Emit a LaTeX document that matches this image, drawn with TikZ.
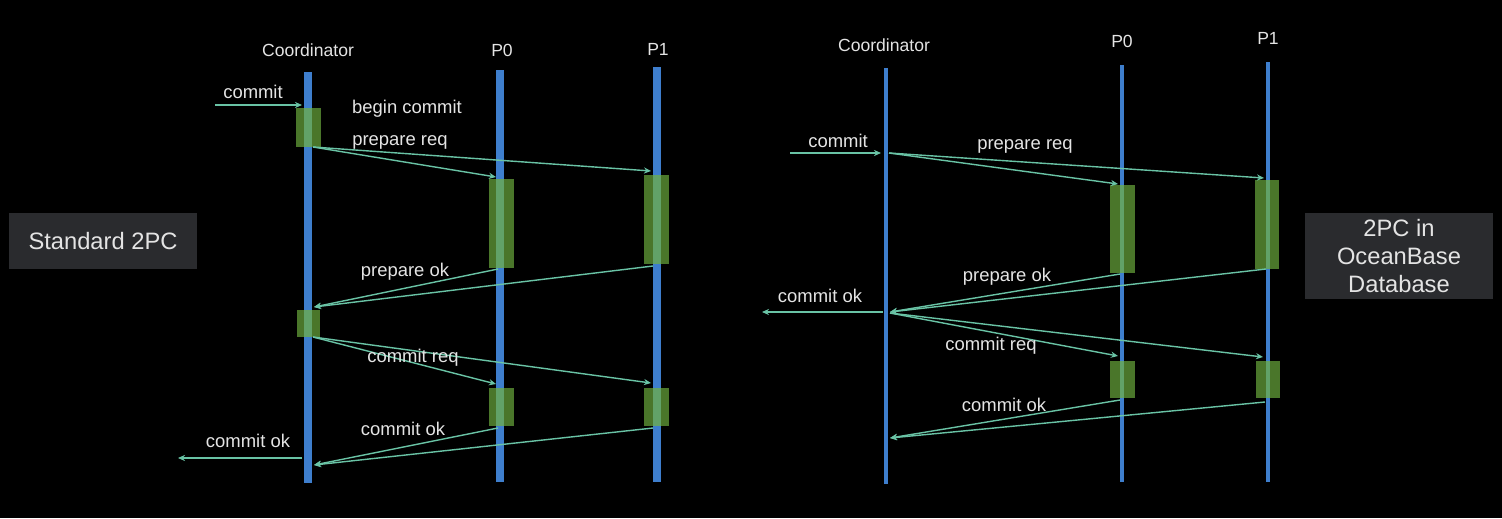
\documentclass[tikz,border=0pt]{standalone}
\usepackage{fontspec}
\setmainfont{Liberation Sans}
\usetikzlibrary{arrows.meta}

\definecolor{bgblack}{RGB}{0,0,0}
\definecolor{lifeblue}{RGB}{62,126,205}
\definecolor{actgreen}{RGB}{74,118,42}
\definecolor{actstrip}{RGB}{98,162,104}
\definecolor{msgteal}{RGB}{105,195,165}
\definecolor{txtgray}{RGB}{228,228,228}
\definecolor{tagbox}{RGB}{42,43,46}

\tikzset{
  lifeline/.style={lifeblue, line width=#1},
  lifeline/.default=4.5pt,
  actbox/.style={fill=actgreen},
  seen/.style={actstrip, line width=#1},
  seen/.default=4.5pt,
  msg/.style={msgteal, line width=0.8pt, ->},
  who/.style={text=txtgray, font=\fontsize{10}{12}\selectfont},
  lbl/.style={text=txtgray, font=\fontsize{10.5}{12}\selectfont},
  tag/.style={fill=tagbox, text=txtgray, font=\fontsize{13.5}{16}\selectfont, align=center},
}

\begin{document}
\begin{tikzpicture}[x=0.02cm, y=-0.02cm, >={Stealth[length=4pt,width=3.5pt]}] % one unit = one pixel of the slide
    % Background
    \fill[bgblack] (0,0) rectangle (1502,518);

    % Side tags
    \node[tag, minimum width=3.76cm, minimum height=1.12cm] (stdtag) at (103,241) {Standard 2PC};
    \node[tag, minimum width=3.76cm, minimum height=1.72cm] (obtag) at (1399,256) {2PC in\\OceanBase\\Database};

    %% Standard 2PC
    % Lifelines and their names
    \node[who] (lcoord) at (308,50) {Coordinator};
    \node[who] (lp0) at (502,50) {P0};
    \node[who] (lp1) at (658,49) {P1};
    \draw[lifeline] (308,72) -- (308,483);
    \draw[lifeline] (500,70) -- (500,482);
    \draw[lifeline] (657,67) -- (657,482);

    % Activity boxes (the lifeline shows through them)
    \fill[actbox] (296,108) rectangle (321,147);
    \draw[seen] (308,108) -- (308,147);
    \fill[actbox] (489,179) rectangle (514,268);
    \draw[seen] (500,179) -- (500,268);
    \fill[actbox] (644,175) rectangle (669,264);
    \draw[seen] (657,175) -- (657,264);
    \fill[actbox] (297,310) rectangle (320,337);
    \draw[seen] (308,310) -- (308,337);
    \fill[actbox] (489,388) rectangle (514,426);
    \draw[seen] (500,388) -- (500,426);
    \fill[actbox] (644,388) rectangle (669,426);
    \draw[seen] (657,388) -- (657,426);

    % Message ends
    \coordinate (lin) at (215,105);
    \coordinate (lcin) at (302,105);
    \coordinate (lcprep) at (313,147);
    \coordinate (lp0prep) at (496,177);
    \coordinate (lp1prep) at (651,171);
    \coordinate (lp0ok) at (498,269);
    \coordinate (lp1ok) at (653,266);
    \coordinate (lcok) at (314,307);
    \coordinate (lccom) at (313,337);
    \coordinate (lp0com) at (496,384);
    \coordinate (lp1com) at (651,383);
    \coordinate (lp0done) at (498,428);
    \coordinate (lp1done) at (653,428);
    \coordinate (lcdone) at (314,465);
    \coordinate (lcout) at (302,458);
    \coordinate (lout) at (178,458);

    % Messages
    \draw[msg] (lin) -- (lcin);
    \draw[msg] (lcprep) -- (lp0prep);
    \draw[msg] (lcprep) -- (lp1prep);
    \draw[msg] (lp0ok) -- (lcok);
    \draw[msg] (lp1ok) -- (lcok);
    \draw[msg] (lccom) -- (lp0com);
    \draw[msg] (lccom) -- (lp1com);
    \draw[msg] (lp0done) -- (lcdone);
    \draw[msg] (lp1done) -- (lcdone);
    \draw[msg] (lcout) -- (lout);

    % Message labels
    \node[lbl] (lcommit) at (253,92) {commit};
    \node[lbl] (lbegin) at (407,109) {begin commit};
    \node[lbl] (lprepreq) at (400,142) {prepare req};
    \node[lbl] (lprepok) at (405,272) {prepare ok};
    \node[lbl] (lcomreq) at (413,358) {commit req};
    \node[lbl] (lcomok) at (403,429) {commit ok};
    \node[lbl] (lfinal) at (248,441) {commit ok};

    %% 2PC in OceanBase Database
    % Lifelines and their names
    \node[who, fill=bgblack] (rcoord) at (884,45) {Coordinator};
    \node[who] (rp0) at (1122,41) {P0};
    \node[who] (rp1) at (1268,38) {P1};
    \draw[lifeline=2.8pt] (886,68) -- (886,484);
    \draw[lifeline=2.8pt] (1122,65) -- (1122,482);
    \draw[lifeline=2.8pt] (1268,62) -- (1268,482);

    % Activity boxes (the lifeline shows through them)
    \fill[actbox] (1110,185) rectangle (1135,273);
    \draw[seen=2.8pt] (1122,185) -- (1122,273);
    \fill[actbox] (1255,180) rectangle (1279,269);
    \draw[seen=2.8pt] (1268,180) -- (1268,269);
    \fill[actbox] (1110,361) rectangle (1135,398);
    \draw[seen=2.8pt] (1122,361) -- (1122,398);
    \fill[actbox] (1256,361) rectangle (1280,398);
    \draw[seen=2.8pt] (1268,361) -- (1268,398);

    % Message ends
    \coordinate (rin) at (790,153);
    \coordinate (rcin) at (881,153);
    \coordinate (rcprep) at (889,153);
    \coordinate (rp0prep) at (1118,184);
    \coordinate (rp1prep) at (1264,178);
    \coordinate (rp0ok) at (1120,274);
    \coordinate (rp1ok) at (1266,269);
    \coordinate (rcok) at (890,312);
    \coordinate (rcout) at (883,312);
    \coordinate (rout) at (762,312);
    \coordinate (rccom) at (890,313);
    \coordinate (rp0com) at (1118,356);
    \coordinate (rp1com) at (1263,357);
    \coordinate (rp0done) at (1120,400);
    \coordinate (rp1done) at (1265,402);
    \coordinate (rcdone) at (890,438);

    % Messages
    \draw[msg] (rin) -- (rcin);
    \draw[msg] (rcprep) -- (rp0prep);
    \draw[msg] (rcprep) -- (rp1prep);
    \draw[msg] (rp0ok) -- (rcok);
    \draw[msg] (rp1ok) -- (rcok);
    \draw[msg] (rcout) -- (rout);
    \draw[msg] (rccom) -- (rp0com);
    \draw[msg] (rccom) -- (rp1com);
    \draw[msg] (rp0done) -- (rcdone);
    \draw[msg] (rp1done) -- (rcdone);

    % Message labels
    \node[lbl] (rcommit) at (838,141) {commit};
    \node[lbl] (rprepreq) at (1025,146) {prepare req};
    \node[lbl] (rprepok) at (1007,277) {prepare ok};
    \node[lbl] (rfinal) at (820,296) {commit ok};
    \node[lbl] (rcomreq) at (991,346) {commit req};
    \node[lbl] (rcomok) at (1004,405) {commit ok};
\end{tikzpicture}
\end{document}
